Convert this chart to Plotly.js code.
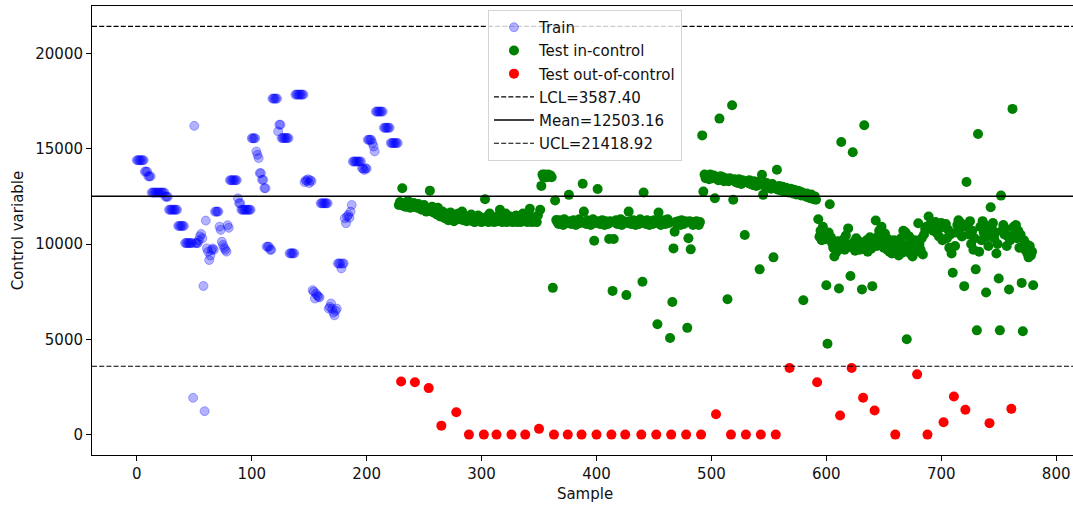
<!DOCTYPE html>
<html>
<head>
<meta charset="utf-8">
<script src="https://cdn.plot.ly/plotly-3.0.1.min.js"></script>
<style>
  html, body { margin: 0; padding: 0; overflow: hidden; background: #fff; }
  #chart { width: 1080px; height: 506px; }
</style>
</head>
<body>
<div id="chart"></div>
<script>
// ---- data ----
const trainStart = 0;
const trainValues = [
  14400,14400,14400,14400,14400,14400,14400,13800,13800,13800,
  13550,13550,13550,12700,12700,12700,12700,12700,12700,12700,
  12700,12700,12700,12700,12700,12480,12480,12480,11800,11800,
  11800,11800,11800,11800,11800,11800,10950,10950,10950,10950,
  10950,10950,10050,10050,10050,10050,10050,10050,10050,1930,
  16200,10050,10050,10050,10200,10400,10530,10300,7800,1230,
  11230,9770,9600,9160,9400,9680,9770,9700,11700,11700,
  11700,11700,10910,10740,10120,9950,9800,9700,9600,10990,
  10850,13350,13350,13350,13350,13350,13350,13350,12400,12140,
  12140,11800,11800,11800,11800,11800,11800,11800,11800,11800,
  15550,15550,15550,15550,14860,14680,14510,13720,13720,13370,
  13370,12930,12930,9860,9860,9860,9700,9700,17630,17630,
  17630,17630,17630,15910,16260,16260,15560,15560,15560,15560,
  15560,15560,15560,9510,9510,9510,9510,9510,17840,17840,
  17840,17840,17840,17840,17840,17840,13250,13350,13300,13400,
  13200,13350,13300,7580,7500,7140,7400,7300,7230,7200,
  12140,12140,12140,12140,12140,12140,12140,6610,6700,6880,
  6600,6400,6260,6500,6610,8980,8980,8980,8720,8980,
  8980,11350,11090,11440,11530,11380,11700,12050,14330,14330,
  14330,14330,14330,14330,14330,14330,13980,13950,13890,13980,
  13950,15470,15470,15470,15470,15300,15120,14860,16950,16950,
  16950,16950,16950,16950,16950,16100,16100,16100,16100,16100,
  16100,15300,15300,15300,15300,15300,15300,15300
];

const testStart = 228;
const testValues = [
  12050,12200,2790,12930,12000,12150,11950,12100,12250,12000,
  11900,12100,12050,12150,2750,11950,11900,12100,12000,11850,
  11800,11950,12050,11900,11700,11800,2440,12800,11750,11950,
  11650,11800,11700,11550,11900,11600,11450,470,11700,11500,
  11350,11600,11400,11250,11500,11650,11300,11450,11200,11550,
  1170,11350,11600,11300,11400,11700,11250,11500,11350,11200,
  11450,0,11300,11550,11200,11400,11150,11350,11250,11500,
  11200,11400,11150,11300,0,12350,11250,11450,11150,11600,
  11300,11200,11400,11150,11350,0,11200,11500,11800,11300,
  11150,11400,11250,11600,11150,11350,11200,11450,0,11150,
  11300,11200,11500,11150,11350,11250,11150,11400,11600,11200,
  0,11300,11150,11450,11850,11250,11150,11400,11200,11350,
  11150,11500,300,11800,13050,13650,13500,13650,13600,13500,
  13650,13550,13600,13500,7700,0,12280,11260,11150,11050,
  11250,11100,11200,11000,11300,11150,11100,0,12580,11200,
  11050,11150,11250,11100,11000,11200,11150,11300,11100,0,
  13160,11700,11150,11050,11250,11100,11200,11000,11150,11300,
  10170,11100,0,12890,11200,11050,11150,11250,11100,11000,
  11200,11150,11050,10260,11200,0,7540,10260,11150,11250,
  11050,11150,11100,11300,11000,11150,11200,0,7320,11100,
  11700,11200,11050,11150,11250,11100,11000,11150,11200,11050,
  11300,0,8020,12700,11150,11050,11250,11100,11000,11200,
  11150,11050,11250,11100,0,5790,11650,11150,11000,11200,
  11100,11250,11050,11150,11300,11100,5070,0,6960,9770,
  10650,11150,11050,11200,11100,11000,11250,11150,11050,11200,
  0,5600,10300,11200,9720,11100,11000,11150,11050,11200,
  11100,11000,11150,0,15700,12750,13650,13450,13600,13500,
  13400,13650,13550,13450,13600,12400,1070,13500,13350,16580,
  13550,13400,13500,13300,13450,13400,7100,13300,13450,0,
  17280,12320,13400,13250,13350,13200,13400,13300,13150,13350,
  13250,10470,0,13300,13200,13350,13150,13250,13100,13300,
  13200,13050,13250,13100,8670,0,13630,12580,13150,13000,
  13200,12950,13100,13000,12900,13150,9300,12950,0,13900,
  12850,13050,12900,12800,13000,12850,12750,12950,12800,12700,
  3490,12900,12750,12650,12850,12700,12600,12800,12650,12750,
  12550,12700,7050,12600,12500,12650,12450,12550,12400,12600,
  12450,12350,12500,12320,2750,11300,10380,10700,10200,10900,
  10500,10250,7840,4770,10600,12090,10350,10050,9800,9350,
  10000,9600,10150,7670,1000,15350,9900,10250,9700,10450,
  10000,10820,9850,8320,3490,14820,10100,9650,10300,9900,
  10150,9700,10050,7620,1930,16230,9800,10200,9600,10000,
  10350,9750,7790,10100,1260,11230,9900,10400,10700,10100,
  10900,10300,9800,10550,10000,9700,10250,9600,10050,9500,
  9900,10200,0,9650,10000,9400,9800,10300,9550,10700,
  9950,10600,5000,9700,10400,9500,10100,9350,9800,10200,
  9600,3160,11090,10000,9700,10300,9450,10500,10800,10900,
  0,11440,11000,10800,11100,10700,10950,11150,10600,11000,
  10400,10850,11100,10200,650,10900,11050,10300,10750,9800,
  10500,9500,8490,2000,9900,10600,11000,11250,10800,11100,
  10400,10900,7790,1300,13250,11000,10500,11200,10000,10700,
  9700,10300,8670,5470,15770,9600,10900,10200,11200,10600,
  11000,7460,10400,9900,600,11930,10800,11100,10300,10600,
  9500,10000,8190,5470,12540,10700,11000,10500,10800,9900,
  10400,7610,10200,1350,17090,10900,10600,11000,10300,10700,
  9800,10500,7960,5420,10200,9700,10000,9500,9300,9900,
  9400,9600,7840
];

const LCL = 3587.40;
const MEAN = 12503.16;
const UCL = 21418.92;
const legendNames = ["Train", "Test in-control", "Test out-of-control",
                     "LCL=3587.40", "Mean=12503.16", "UCL=21418.92"];
const xTicks = [0, 100, 200, 300, 400, 500, 600, 700, 800];
const yTicks = [0, 5000, 10000, 15000, 20000];

// ---- build series ----
const trainX = trainValues.map((v, i) => trainStart + i);
const inX = [], inY = [], outX = [], outY = [];
testValues.forEach((v, i) => {
  const s = testStart + i;
  if (v < LCL || v > UCL) { outX.push(s); outY.push(v); }
  else { inX.push(s); inY.push(v); }
});

const nLast = testStart + testValues.length - 1;
const xPad = 0.05 * (nLast - trainStart);
const xRange = [trainStart - xPad, nLast + xPad];
const yPad = 0.05 * (UCL - 0);
const yRange = [0 - yPad, UCL + yPad];

const MS = 10;
const traces = [
  { type: 'scatter', mode: 'markers', name: legendNames[0], x: trainX, y: trainValues,
    legendgroup: 'a',
    marker: { color: 'rgba(0,0,255,0.3)', size: MS - 1,
              line: { width: 1, color: 'rgba(0,0,255,0.3)' } } },
  { type: 'scatter', mode: 'markers', name: legendNames[1], x: inX, y: inY,
    legendgroup: 'b',
    marker: { color: 'rgb(0,128,0)', size: MS, line: { width: 0 } } },
  { type: 'scatter', mode: 'markers', name: legendNames[2], x: outX, y: outY,
    legendgroup: 'c',
    marker: { color: 'rgb(255,0,0)', size: MS, line: { width: 0 } } },
  { type: 'scatter', mode: 'lines', name: legendNames[3], x: xRange, y: [LCL, LCL],
    legendgroup: 'd', hoverinfo: 'skip',
    line: { color: '#000', width: 1.2, dash: '5px,2.2px' } },
  { type: 'scatter', mode: 'lines', name: legendNames[4], x: xRange, y: [MEAN, MEAN],
    legendgroup: 'e', hoverinfo: 'skip',
    line: { color: '#000', width: 1.4 } },
  { type: 'scatter', mode: 'lines', name: legendNames[5], x: xRange, y: [UCL, UCL],
    legendgroup: 'f', hoverinfo: 'skip',
    line: { color: '#000', width: 1.2, dash: '5px,2.2px' } }
];

const FONT = { family: 'DejaVu Sans', size: 15, color: '#111' };
const layout = {
  width: 1080, height: 506,
  margin: { l: 92, r: 2, t: 6, b: 51, pad: 0 },
  paper_bgcolor: '#fff', plot_bgcolor: '#fff',
  font: FONT,
  showlegend: true,
  legend: {
    x: 0.4016, y: 0.9911, xanchor: 'left', yanchor: 'top',
    bgcolor: 'rgba(255,255,255,0.8)', bordercolor: '#d4d4d4', borderwidth: 1,
    font: FONT, tracegroupgap: 0.7, itemwidth: 40, traceorder: 'grouped'
  },
  xaxis: {
    range: xRange, tickvals: xTicks, ticktext: xTicks.map(String),
    showgrid: false, zeroline: false,
    showline: true, mirror: true, linecolor: '#000', linewidth: 1,
    ticks: 'outside', ticklen: 5, tickwidth: 1, tickcolor: '#000',
    tickfont: FONT, automargin: false,
    title: { text: 'Sample', font: FONT, standoff: 6 }
  },
  yaxis: {
    range: yRange, tickvals: yTicks, ticktext: yTicks.map(String),
    showgrid: false, zeroline: false,
    showline: true, mirror: true, linecolor: '#000', linewidth: 1,
    ticks: 'outside', ticklen: 5, tickwidth: 1, tickcolor: '#000',
    tickfont: FONT, automargin: false,
    title: { text: 'Control variable', font: FONT, standoff: 8 }
  }
};

Plotly.newPlot('chart', traces, layout, { displayModeBar: false, staticPlot: true });
</script>
</body>
</html>
